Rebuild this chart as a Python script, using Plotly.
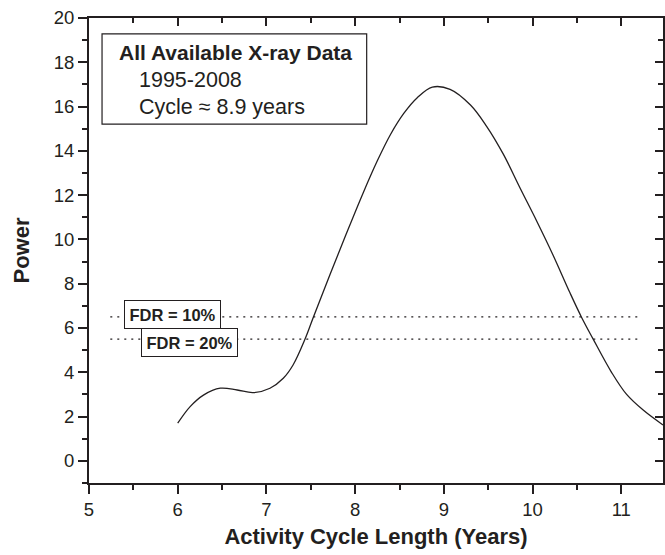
import plotly.graph_objects as go

# Curve (periodogram)
cycle_years = [6.0, 6.14, 6.29, 6.48, 6.67, 6.85, 7.04, 7.19, 7.30, 7.435, 7.53,
               7.72, 7.905, 8.09, 8.25, 8.40, 8.55, 8.70, 8.87, 9.07, 9.30, 9.48, 9.67,
               9.86, 10.05, 10.23, 10.42, 10.55, 10.68, 10.89, 11.06, 11.25, 11.47]
power = [1.70, 2.45, 2.97, 3.28, 3.20, 3.08, 3.28, 3.73, 4.33, 5.50, 6.50,
         8.45, 10.30, 12.10, 13.55, 14.75, 15.70, 16.40, 16.88, 16.78, 16.07, 15.12, 13.85,
         12.31, 10.80, 9.30, 7.60, 6.50, 5.52, 4.00, 3.00, 2.28, 1.62]

# False discovery rate thresholds
fdr_labels = ["FDR = 10%", "FDR = 20%"]
fdr_levels = [6.5, 5.5]
fdr_x_span = [5.24, 11.19]

x_ticks = [5, 6, 7, 8, 9, 10, 11]
y_ticks = [0, 2, 4, 6, 8, 10, 12, 14, 16, 18, 20]

box_lines = ["All Available X-ray Data", "1995-2008", "Cycle \u2248 8.9 years"]

FONT = "Liberation Sans, Arial, Helvetica, sans-serif"
INK = "#231f20"

fig = go.Figure()

for lvl in fdr_levels:
    fig.add_trace(go.Scatter(
        x=fdr_x_span, y=[lvl, lvl], mode="lines",
        line=dict(color=INK, width=1.3, dash="2px,5px"),
        hoverinfo="skip", showlegend=False))

fig.add_trace(go.Scatter(
    x=cycle_years, y=power, mode="lines",
    line=dict(color=INK, width=1.3, shape="spline", smoothing=1.0),
    showlegend=False))

# invisible trace to activate mirrored top/right axes
fig.add_trace(go.Scatter(x=[x_ticks[0]], y=[y_ticks[0]], xaxis="x2", yaxis="y2",
                         mode="markers", marker=dict(opacity=0),
                         hoverinfo="skip", showlegend=False))

xr = [5, 11.47]
yr = [-1, 20]

common = dict(showline=True, linecolor=INK, linewidth=2, showgrid=False,
              zeroline=False, tickcolor=INK, tickwidth=2)

fig.update_layout(
    width=665, height=555,
    margin=dict(l=89, r=2, t=18, b=72),
    paper_bgcolor="white", plot_bgcolor="white",
    font=dict(family=FONT, color=INK),
    xaxis=dict(range=xr, tickvals=x_ticks, ticks="outside", ticklen=9,
               minor=dict(dtick=0.5, ticklen=5, tickwidth=2, tickcolor=INK, ticks="outside"),
               tickfont=dict(size=18.5, family=FONT, color=INK),
               title=dict(text="<b>Activity Cycle Length (Years)</b>",
                          font=dict(size=22, family=FONT, color=INK), standoff=9),
               **common),
    yaxis=dict(range=yr, tickvals=y_ticks, ticks="outside", ticklen=9,
               minor=dict(dtick=1, ticklen=5, tickwidth=2, tickcolor=INK, ticks="outside"),
               tickfont=dict(size=18.5, family=FONT, color=INK),
               title=dict(text="<b>Power</b>",
                          font=dict(size=22, family=FONT, color=INK), standoff=18),
               **common),
    xaxis2=dict(range=xr, overlaying="x", side="top", tickvals=x_ticks,
                ticks="inside", ticklen=8, showticklabels=False,
                minor=dict(dtick=0.5, ticklen=5, tickwidth=2, tickcolor=INK, ticks="inside"),
                **common),
    yaxis2=dict(range=yr, overlaying="y", side="right", tickvals=y_ticks,
                ticks="inside", ticklen=8, showticklabels=False,
                minor=dict(dtick=1, ticklen=5, tickwidth=2, tickcolor=INK, ticks="inside"),
                **common),
)

# Text box
fig.add_shape(type="rect", xref="x", yref="y", x0=5.147, x1=8.13, y0=15.21, y1=19.28,
              line=dict(color=INK, width=1.2), fillcolor="white", layer="above")
fig.add_annotation(x=5.316, y=18.42, xref="x", yref="y", xanchor="left", yanchor="middle",
                   text="<b>" + box_lines[0] + "</b>", showarrow=False,
                   font=dict(size=21, family=FONT, color=INK))
fig.add_annotation(x=5.54, y=17.2, xref="x", yref="y", xanchor="left", yanchor="middle",
                   text=box_lines[1], showarrow=False,
                   font=dict(size=21.5, family=FONT, color=INK))
fig.add_annotation(x=5.54, y=15.98, xref="x", yref="y", xanchor="left", yanchor="middle",
                   text=box_lines[2], showarrow=False,
                   font=dict(size=21.5, family=FONT, color=INK))

# FDR labels
fdr_label_pos = [(5.94, 6.59), (6.13, 5.35)]
for lab, (lx, ly) in zip(fdr_labels, fdr_label_pos):
    fig.add_annotation(x=lx, y=ly, xref="x", yref="y", text="<b>" + lab + "</b>",
                       showarrow=False, bgcolor="white", bordercolor=INK, borderwidth=1,
                       borderpad=4.5, font=dict(size=16.5, family=FONT, color=INK))

fig.write_html("out.html")
